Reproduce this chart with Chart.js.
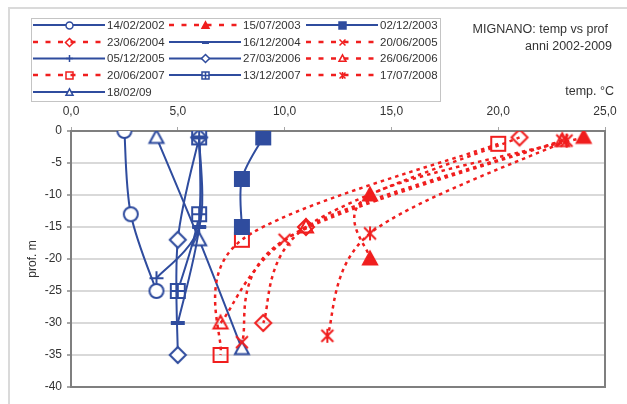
<!DOCTYPE html>
<html>
<head>
<meta charset="utf-8">
<script src="https://cdn.jsdelivr.net/npm/chart.js@4.4.1/dist/chart.umd.min.js"></script>
<style>
  html, body { margin: 0; padding: 0; background: #fff; }
  #wrap { position: relative; width: 627px; height: 404px; overflow: hidden;
          font-family: "Liberation Sans", Arial, sans-serif; color: #333; }
  #frame { position: absolute; left: 8px; top: 7px; width: 640px; height: 420px; border: 2px solid #dadada; }
  #chart { position: absolute; left: 0; top: 0; }
  .txt { position: absolute; font-size: 12.5px; white-space: nowrap; line-height: 14px; }
</style>
</head>
<body>
<div id="wrap">
  <div id="frame"></div>
  <canvas id="chart" width="627" height="404"></canvas>
  <div class="txt" style="right:19px; top:22px;">MIGNANO: temp vs prof</div>
  <div class="txt" style="right:15px; top:39px;">anni 2002-2009</div>
  <div class="txt" style="right:13px; top:84px;">temp. °C</div>
</div>
<script>
// ── dati (temp °C, prof m) ───────────────────────────────────────────────────
var seriesLabels = ["14/02/2002", "15/07/2003", "02/12/2003", "23/06/2004", "16/12/2004",
                    "20/06/2005", "05/12/2005", "27/03/2006", "26/06/2006", "20/06/2007",
                    "13/12/2007", "17/07/2008", "18/02/09"];

var temp_20020214 = [2.5, 2.8, 4.0];   var prof_20020214 = [0, -13, -25];
var temp_20030715 = [24, 14, 14];      var prof_20030715 = [-1, -10, -20];
var temp_20031202 = [9, 8, 8];         var prof_20031202 = [-1, -7.5, -15];
var temp_20040623 = [21, 11, 9];       var prof_20040623 = [-1, -15, -30];
var temp_20041216 = [6, 6, 5];         var prof_20041216 = [-1, -15, -30];
var temp_20050620 = [23, 10, 8];       var prof_20050620 = [-1.5, -17, -33];
var temp_20051205 = [6, 6, 4];         var prof_20051205 = [-1, -15, -23];
var temp_20060327 = [6, 5, 5];         var prof_20060327 = [-1, -17, -35];
var temp_20060626 = [23, 11, 7];       var prof_20060626 = [-1.5, -15, -30];
var temp_20070620 = [20, 8, 7];        var prof_20070620 = [-2, -17, -35];
var temp_20071213 = [6, 6, 5];         var prof_20071213 = [-1, -13, -25];
var temp_20080717 = [23.2, 14, 12];    var prof_20080717 = [-1.5, -16, -32];
var temp_20090218 = [4, 6, 8];         var prof_20090218 = [-1, -17, -34];

var xTicks = [0, 5, 10, 15, 20, 25];
var yTicks = [0, -5, -10, -15, -20, -25, -30, -35, -40];

var seriesTemps = [temp_20020214, temp_20030715, temp_20031202, temp_20040623, temp_20041216,
                   temp_20050620, temp_20051205, temp_20060327, temp_20060626, temp_20070620,
                   temp_20071213, temp_20080717, temp_20090218];
var seriesProfs = [prof_20020214, prof_20030715, prof_20031202, prof_20040623, prof_20041216,
                   prof_20050620, prof_20051205, prof_20060327, prof_20060626, prof_20070620,
                   prof_20071213, prof_20080717, prof_20090218];

// ── stili ────────────────────────────────────────────────────────────────────
var BLUE = "#2f4c9e";
var RED  = "#f01e1e";
var FONT = "\"Liberation Sans\", Arial, sans-serif";

// marker: [forma, colore, riempimento]
var seriesStyles = [
  ["circle",    BLUE, "#fff"],
  ["triangle",  RED,  RED],
  ["square",    BLUE, BLUE],
  ["diamond",   RED,  null],
  ["dash",      BLUE, null],
  ["x",         RED,  null],
  ["plus",      BLUE, null],
  ["diamond",   BLUE, "#fff"],
  ["triangle",  RED,  null],
  ["square",    RED,  null],
  ["squarePlus",BLUE, "#fff"],
  ["asterisk",  RED,  null],
  ["triangle",  BLUE, "#fff"]
];

function makeMarker(kind, color, fill, size, lw) {
  var pad = Math.ceil(lw) + 2;
  var S = Math.ceil(size) + pad * 2;
  var c = document.createElement("canvas");
  c.width = S; c.height = S;
  var g = c.getContext("2d");
  var m = S / 2, r = size / 2;
  g.strokeStyle = color; g.lineWidth = lw; g.lineJoin = "miter";
  g.beginPath();
  if (kind === "circle") {
    g.arc(m, m, r, 0, Math.PI * 2);
  } else if (kind === "square" || kind === "squarePlus") {
    g.rect(m - r, m - r, 2 * r, 2 * r);
  } else if (kind === "diamond") {
    var d = r * 1.15;
    g.moveTo(m, m - d); g.lineTo(m + d, m); g.lineTo(m, m + d); g.lineTo(m - d, m); g.closePath();
  } else if (kind === "triangle") {
    g.moveTo(m, m - r * 1.05); g.lineTo(m + r, m + r * 0.8); g.lineTo(m - r, m + r * 0.8); g.closePath();
  }
  if (fill && kind !== "dash" && kind !== "x" && kind !== "plus" && kind !== "asterisk") {
    g.fillStyle = fill; g.fill();
  }
  g.stroke();
  g.beginPath();
  if (kind === "squarePlus") {
    g.moveTo(m, m - r); g.lineTo(m, m + r); g.moveTo(m - r, m); g.lineTo(m + r, m);
  } else if (kind === "dash") {
    g.lineWidth = lw * 2;
    g.moveTo(m - r, m); g.lineTo(m + r, m);
  } else if (kind === "plus") {
    g.moveTo(m, m - r); g.lineTo(m, m + r); g.moveTo(m - r, m); g.lineTo(m + r, m);
  } else if (kind === "x" || kind === "asterisk") {
    var k = r * 0.85;
    g.moveTo(m - k, m - k); g.lineTo(m + k, m + k); g.moveTo(m + k, m - k); g.lineTo(m - k, m + k);
    if (kind === "asterisk") { g.moveTo(m, m - r); g.lineTo(m, m + r); }
  }
  g.stroke();
  return c;
}

function toPoints(xs, ys) {
  return xs.map(function(x, i) { return { x: x, y: ys[i] }; });
}

var datasets = seriesLabels.map(function(label, i) {
  var st = seriesStyles[i];
  var isRed = st[1] === RED;
  return {
    label: label,
    data: toPoints(seriesTemps[i], seriesProfs[i]),
    showLine: true,
    borderColor: st[1],
    borderWidth: isRed ? 2.5 : 2,
    borderDash: isRed ? [3.5, 4] : [],
    tension: 0.3,
    pointStyle: makeMarker(st[0], st[1], st[2], 14, 2),
    pointRadius: 7,
    _legendMarker: makeMarker(st[0], st[1], st[2], 7, 1.5)
  };
});

// ── linee smussate "tipo Excel" (Catmull-Rom, 1/6) ───────────────────────────
var smoothPlugin = {
  id: "excelSmooth",
  beforeDatasetsDraw: function(chart) {
    chart.data.datasets.forEach(function(ds, i) {
      var meta = chart.getDatasetMeta(i);
      var pts = meta.data;
      for (var j = 0; j < pts.length; j++) {
        var p = pts[j], a = pts[j - 1] || p, b = pts[j + 1] || p;
        var dx = (b.x - a.x) / 6, dy = (b.y - a.y) / 6;
        p.cp1x = p.x - dx; p.cp1y = p.y - dy;
        p.cp2x = p.x + dx; p.cp2y = p.y + dy;
      }
      if (meta.dataset) meta.dataset._pointsUpdated = true;
    });
  }
};

// ── cornice area grafico + legenda ───────────────────────────────────────────
var framePlugin = {
  id: "frame",
  beforeDatasetsDraw: function(chart) {
    var a = chart.chartArea, ctx = chart.ctx;
    ctx.save();
    ctx.strokeStyle = "#7f7f7f"; ctx.lineWidth = 2;
    ctx.strokeRect(a.left, a.top, a.right - a.left, a.bottom - a.top);
    ctx.restore();
  }
};

var legendPlugin = {
  id: "boxLegend",
  afterDraw: function(chart) {
    var ctx = chart.ctx;
    var colX = [33, 169, 306], rowY = [25, 42, 58.5, 75, 92];
    ctx.save();
    ctx.strokeStyle = "#c4c4c4"; ctx.lineWidth = 1;
    ctx.strokeRect(31.5, 18.5, 409, 83);
    ctx.font = "11.5px " + FONT;
    ctx.textBaseline = "middle";
    chart.data.datasets.forEach(function(ds, i) {
      var x0 = colX[i % 3], y = rowY[Math.floor(i / 3)];
      var isRed = ds.borderColor === RED;
      ctx.strokeStyle = ds.borderColor;
      ctx.lineWidth = isRed ? 2.5 : 2;
      ctx.setLineDash(isRed ? [5, 7.5] : []);
      ctx.beginPath(); ctx.moveTo(x0, y); ctx.lineTo(x0 + 72, y); ctx.stroke();
      ctx.setLineDash([]);
      var mk = ds._legendMarker;
      ctx.drawImage(mk, Math.round(x0 + 36 - mk.width / 2), Math.round(y - mk.height / 2));
      ctx.fillStyle = "#333";
      ctx.fillText(ds.label, x0 + 74, y + 0.5);
    });
    ctx.restore();
  }
};

new Chart(document.getElementById("chart").getContext("2d"), {
  type: "scatter",
  data: { datasets: datasets },
  options: {
    responsive: false, animation: false,
    layout: { padding: { left: 21, right: 22, top: 0, bottom: 17 } },
    plugins: { legend: { display: false }, tooltip: { enabled: false } },
    scales: {
      x: {
        type: "linear", position: "top", min: xTicks[0], max: xTicks[xTicks.length - 1],
        afterBuildTicks: function(s) { s.ticks = xTicks.map(function(v) { return { value: v }; }); },
        ticks: { padding: 8, color: "#333", font: { size: 12, family: FONT },
                 callback: function(v) { return v.toFixed(1).replace(".", ","); } },
        grid: { drawOnChartArea: false, drawTicks: true, tickLength: 4, tickColor: "#a6a6a6" },
        border: { display: true, color: "#7f7f7f", width: 2 },
        afterFit: function(s) { s.height = 131; }
      },
      y: {
        type: "linear", position: "left", min: yTicks[yTicks.length - 1], max: yTicks[0],
        afterBuildTicks: function(s) { s.ticks = yTicks.map(function(v) { return { value: v }; }); },
        ticks: { padding: 5, color: "#333", font: { size: 12, family: FONT },
                 callback: function(v) { return String(v); } },
        grid: { color: "#d9d9d9", lineWidth: 2, tickLength: 4, tickColor: "#a6a6a6" },
        border: { color: "#7f7f7f", width: 2 },
        title: { display: true, text: "prof. m", color: "#333", font: { size: 12, family: FONT },
                 padding: { top: 4, bottom: 4 } },
        afterFit: function(s) { s.width = 50; }
      }
    }
  },
  plugins: [smoothPlugin, framePlugin, legendPlugin]
});
</script>
</body>
</html>
